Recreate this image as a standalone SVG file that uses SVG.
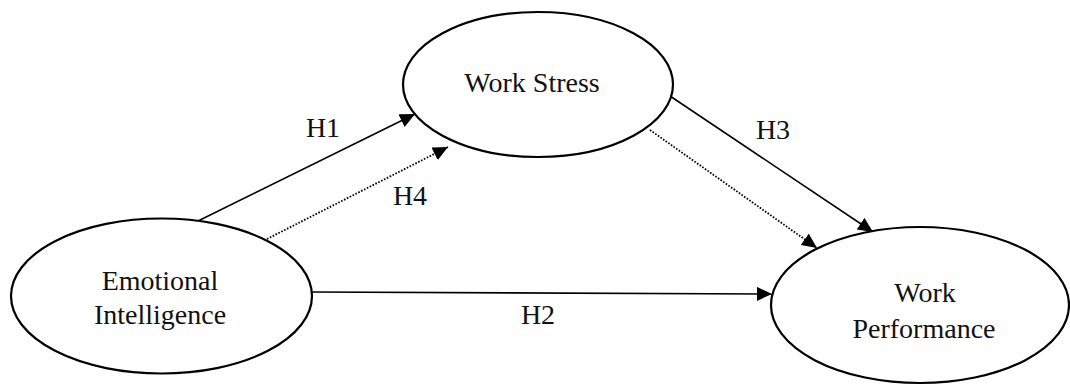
<svg xmlns="http://www.w3.org/2000/svg" width="1070" height="387" viewBox="0 0 1070 387">
<style>
.node{fill:#fff;stroke:#000;stroke-width:2.2}
.lbl{font-family:"Liberation Serif",serif;font-size:28px;fill:#111;text-anchor:middle}
.c{fill:none;stroke:#000;stroke-width:1.6}
.d{fill:none;stroke:#000;stroke-width:1.8;stroke-dasharray:1.6 1.6}
</style>
<defs>
<marker id="ah" markerUnits="userSpaceOnUse" markerWidth="16" markerHeight="14" refX="15" refY="7" orient="auto">
<path d="M0,0 L15,7 L0,14 Z" fill="#000"/>
</marker>
</defs>
<rect width="1070" height="387" fill="#fff"/>
<g id="connectors">
<line class="c" x1="198" y1="221" x2="415" y2="114" marker-end="url(#ah)"/>
<line class="d" x1="267" y1="239" x2="448" y2="147" marker-end="url(#ah)"/>
<line class="c" x1="670" y1="96" x2="873" y2="232" marker-end="url(#ah)"/>
<line class="d" x1="650" y1="130" x2="817" y2="248" marker-end="url(#ah)"/>
<line class="c" x1="312" y1="292" x2="772" y2="294" marker-end="url(#ah)"/>
</g>
<g id="labels">
<text class="lbl" x="323" y="137">H1</text>
<text class="lbl" x="538" y="324">H2</text>
<text class="lbl" x="773" y="139">H3</text>
<text class="lbl" x="410" y="205">H4</text>
</g>
<g id="emotional-intelligence">
<ellipse class="node" cx="161.5" cy="296" rx="150.5" ry="77.5"/>
<text class="lbl" x="160" y="290">Emotional</text>
<text class="lbl" x="160" y="324">Intelligence</text>
</g>
<g id="work-stress">
<ellipse class="node" cx="538" cy="84.5" rx="135" ry="72.5"/>
<text class="lbl" x="532" y="92">Work Stress</text>
</g>
<g id="work-performance">
<ellipse class="node" cx="920" cy="305" rx="149" ry="78"/>
<text class="lbl" x="925" y="302">Work</text>
<text class="lbl" x="924" y="338">Performance</text>
</g>
</svg>
